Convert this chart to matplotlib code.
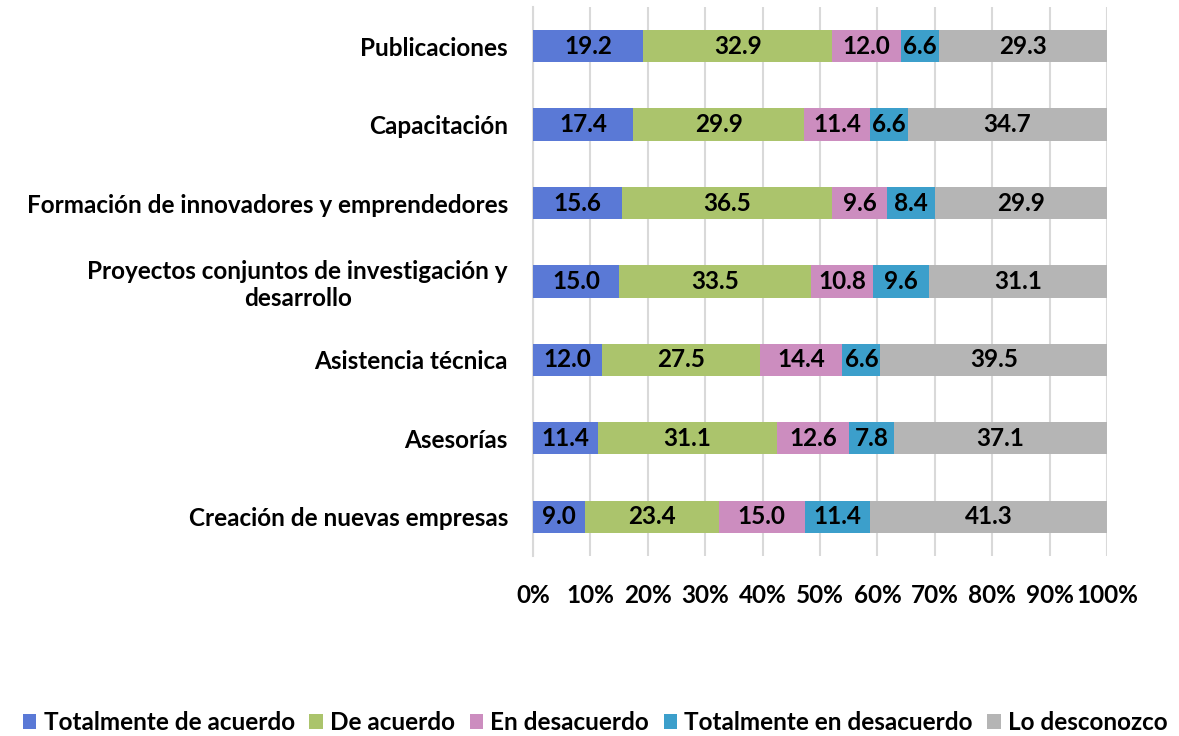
import numpy as np
import matplotlib.pyplot as plt

plt.rcParams["font.family"] = ["Lato", "DejaVu Sans"]
plt.rcParams["font.weight"] = "bold"

categories = [
    "Publicaciones",
    "Capacitación",
    "Formación de innovadores y emprendedores",
    "Proyectos conjuntos de investigación y\ndesarrollo",
    "Asistencia técnica",
    "Asesorías",
    "Creación de nuevas empresas",
]
series_names = [
    "Totalmente de acuerdo",
    "De acuerdo",
    "En desacuerdo",
    "Totalmente en desacuerdo",
    "Lo desconozco",
]
tot_acuerdo = [19.2, 17.4, 15.6, 15.0, 12.0, 11.4, 9.0]
de_acuerdo = [32.9, 29.9, 36.5, 33.5, 27.5, 31.1, 23.4]
en_desacuerdo = [12.0, 11.4, 9.6, 10.8, 14.4, 12.6, 15.0]
tot_desacuerdo = [6.6, 6.6, 8.4, 9.6, 6.6, 7.8, 11.4]
desconozco = [29.3, 34.7, 29.9, 31.1, 39.5, 37.1, 41.3]
colors = ["#5a79d6", "#abc46c", "#cc8dbf", "#3c9fcb", "#b5b5b5"]

data = np.array([tot_acuerdo, de_acuerdo, en_desacuerdo, tot_desacuerdo, desconozco])
totals = data.sum(axis=0)
pct = data / totals * 100

fs = 17.5
fig = plt.figure(figsize=(11.79, 7.36), dpi=100)
ax = fig.add_axes([0.452, 0.2446, 0.487, 0.746])

y = np.arange(len(categories))[::-1]
left = np.zeros(len(categories))
for i, name in enumerate(series_names):
    ax.barh(y, pct[i], left=left, height=0.41, color=colors[i], label=name, zorder=3)
    for yy, l, w, v in zip(y, left, pct[i], data[i]):
        ax.text(l + w / 2, yy, f"{v:.1f}", ha="center", va="center",
                fontsize=fs, fontweight="bold", color="black", zorder=4)
    left += pct[i]

ax.set_xlim(0, 100)
ax.set_ylim(-0.5, len(categories) - 0.5)
ax.set_xticks(np.arange(0, 101, 10))
ax.set_xticklabels([f"{t}%" for t in range(0, 101, 10)], fontsize=fs, fontweight="bold")
ax.set_yticks(y)
ax.set_yticklabels(categories, fontsize=fs, fontweight="bold", multialignment="center")
ax.grid(axis="x", color="#d9d9d9", linewidth=1.5, zorder=0)
for s in ["top", "right", "bottom"]:
    ax.spines[s].set_visible(False)
ax.spines["left"].set_color("#d9d9d9")
ax.spines["left"].set_linewidth(1.5)
ax.tick_params(axis="y", length=0, pad=18)
ax.tick_params(axis="x", length=0, pad=20)

ax.legend(loc="lower center", bbox_to_anchor=(0.505, -0.027), bbox_transform=fig.transFigure,
          ncol=5, frameon=False, fontsize=fs, handlelength=0.55, handleheight=0.55,
          handletextpad=0.3, columnspacing=0.6)

fig.savefig("out.png", dpi=100)
